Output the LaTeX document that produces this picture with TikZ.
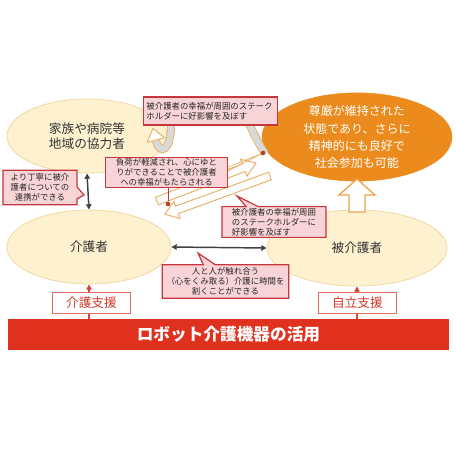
\documentclass[tikz,border=0pt]{standalone}
\usepackage{fontspec}
\setmainfont{Noto Sans CJK JP}
\usepackage{tikz}
\usetikzlibrary{shapes.geometric,shapes.callouts,arrows.meta}

\definecolor{blobfill}{HTML}{FDF1CF}
\definecolor{blobline}{HTML}{F2D9A2}
\definecolor{goalfill}{HTML}{EC8B1D}
\definecolor{notefill}{HTML}{F8D4D7}
\definecolor{noteline}{HTML}{C5373D}
\definecolor{barfill}{HTML}{E0301E}
\definecolor{supline}{HTML}{DE6A60}
\definecolor{suptext}{HTML}{D0392B}
\definecolor{arrowred}{HTML}{D9442F}
\definecolor{bandline}{HTML}{E8B063}
\definecolor{darkline}{HTML}{404040}
\definecolor{dotcol}{HTML}{B5441B}
\definecolor{curlfill}{HTML}{D9D9D9}

\begin{document}
\begin{tikzpicture}[x=0.75pt, y=-0.75pt]

% Page frame
\fill[white] (0,0) rectangle (455,455);
\useasboundingbox (0,0) rectangle (455,455);

% Styles for the bubbles, notes and arrows
\tikzstyle{blob}=[ellipse, draw=blobline, fill=blobfill, line width=0.6pt, inner sep=0pt, align=center, text=black!80, font=\fontsize{9.5}{11.2}\selectfont]
\tikzstyle{goal}=[ellipse, draw=goalfill, fill=goalfill, text=white, inner sep=0pt, align=center, font=\fontsize{9}{12.8}\selectfont]
\tikzstyle{note}=[rectangle callout, draw=noteline, fill=notefill, line width=0.9pt, inner sep=1pt, align=center, text=black!85, font=\fontsize{6.3}{7.6}\selectfont, callout pointer width=9pt]
\tikzstyle{notebox}=[rectangle, draw=noteline, fill=notefill, line width=0.9pt, inner sep=1pt, text=black!85, font=\fontsize{6.3}{7.6}\selectfont]
\tikzstyle{support}=[rectangle, draw=supline, fill=white, line width=0.6pt, text=suptext, font=\fontsize{9.5}{11}\selectfont, minimum width=59pt, minimum height=15pt]
\tikzstyle{band}=[draw=bandline, fill=white, line width=0.7pt]
\tikzstyle{link}=[draw=darkline, line width=1.1pt, {Triangle[length=4pt,width=4pt]}-{Triangle[length=4pt,width=4pt]}]
\tikzstyle{lift}=[draw=arrowred, line width=1pt, -{Triangle[length=4pt,width=4pt]}]
\tikzstyle{dot}=[circle, fill=dotcol, inner sep=0pt, minimum size=3.5pt]
\tikzstyle{pin}=[draw=bandline, line width=0.5pt]

% Bubbles
\node[blob, minimum width=120pt, minimum height=55.5pt] (fam) at (87,136) {家族や病院等\\地域の協力者};
\node[blob, minimum width=123pt, minimum height=55.5pt] (carer) at (89,247) {介護者};
\node[blob, minimum width=135pt, minimum height=57pt] (recv) at (357,248) {被介護者};
\node[goal, minimum width=142.5pt, minimum height=64.5pt] (goal) at (357,137) {尊厳が維持された\\状態であり、さらに\\精神的にも良好で\\社会参加も可能};

% Links between the people
\draw[link] (fam.south) -- (carer.north);
\draw[link] (carer.east) -- (recv.west);

% Hollow arrow up to the goal
\draw[band, draw=goalfill!80, line width=1pt] (349,212) -- (349,195) -- (339,195) -- (357,179) -- (375,195) -- (365,195) -- (365,212) -- cycle;

% Long hollow arrows
\begin{scope}[shift={(157,201)}, rotate=21]
\draw[band] (0,-4) -- (93,-4) -- (93,-9) -- (106,0) -- (93,9) -- (93,4) -- (0,4) -- cycle;
\end{scope}
\begin{scope}[shift={(270,176)}, rotate=200]
\draw[band] (0,-4) -- (99,-4) -- (99,-9) -- (112,0) -- (99,9) -- (99,4) -- (0,4) -- cycle;
\end{scope}

% Curl from the goal back to the family
\draw[draw=bandline, line width=6pt] (265,153) .. controls (252,135) and (250,118) .. (238,112) -- (186,112) .. controls (173,113) and (171,118) .. (171,126) .. controls (171,150) and (160,156) .. (156,141);
\draw[draw=curlfill, line width=4.6pt] (265,153) .. controls (252,135) and (250,118) .. (238,112) -- (186,112) .. controls (173,113) and (171,118) .. (171,126) .. controls (171,150) and (160,156) .. (156,141);
\draw[band] (164.7,137.7) -- (152.9,128.4) -- (147.3,142.3) -- cycle;

% Dots where the notes point
\node[dot] (d1) at (168,204) {};
\node[dot] (d2) at (263,153) {};

% Notes
\node[notebox, align=left, text width=96pt, minimum width=101pt, minimum height=21pt] (ripple) at (210.5,111) {被介護者の幸福が周囲のステーク\\ホルダーに好影響を及ぼす};
\node[notebox, align=center, minimum width=91pt, minimum height=23pt] (relief) at (166.5,172.5) {負荷が軽減され、心にゆと\\りができることで被介護者\\への幸福がもたらされる};
\draw[pin] ([yshift=4pt]relief.east) -- (d2) -- ([yshift=1pt]relief.east);
\draw[draw=noteline, line width=0.5pt] (relief.south -| d1) -- (d1);
\node[note, minimum width=55.5pt, minimum height=26pt, callout absolute pointer={(84,195)}] (bond) at (40,187.5) {より丁寧に被介\\護者についての\\連携ができる};
\node[note, align=left, minimum width=78pt, minimum height=22.5pt, callout absolute pointer={(237,196)}] (ripple2) at (274,222) {被介護者の幸福が周囲\\のステークホルダーに\\好影響を及ぼす};
\node[note, minimum width=95pt, minimum height=25pt, callout absolute pointer={(198,253)}] (touch) at (225.5,281.5) {人と人が触れ合う\\（心をくみ取る）介護に時間を\\割くことができる};

% Robot bar and support arrows
\node[fill=barfill, text=white, minimum width=330.75pt, minimum height=23.25pt, font=\bfseries\fontsize{12.5}{14}\selectfont] (bar) at (228.5,334.5) {ロボット介護機器の活用};
\draw[lift] (bar.north -| carer.south) -- (carer.south);
\draw[lift] (bar.north -| recv.south) -- (recv.south);
\node[support] (aid) at (91.5,303) {介護支援};
\node[support] (self) at (357.5,303) {自立支援};

\end{tikzpicture}
\end{document}
